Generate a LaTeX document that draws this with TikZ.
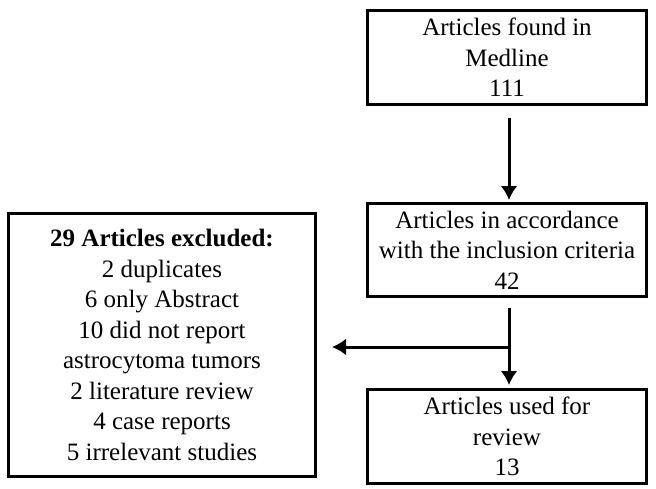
\documentclass[tikz,border=0pt]{standalone}
\usepackage{fontspec}
\setmainfont{Liberation Serif}
\usetikzlibrary{arrows.meta,calc}
\begin{document}
\begin{tikzpicture}[x=1pt,y=-1pt,
  box/.style={draw, line width=3pt, align=center, inner sep=0pt,
    font=\fontsize{25}{30.5}\selectfont},
  arr/.style={line width=3pt, -{Latex[length=14pt,width=17pt]}}]
\useasboundingbox (0,0) rectangle (656,488);
\node[box, minimum width=279pt, minimum height=94pt] (found) at (507,57.5)
  {Articles found in\\Medline\\111};
\node[box, minimum width=279pt, minimum height=93pt] (incl) at (507,250)
  {Articles in accordance\\with the inclusion criteria\\42};
\node[box, minimum width=307pt, minimum height=263pt] (excl) at (162,345)
  {\textbf{29 Articles excluded:}\\2 duplicates\\6 only Abstract\\10 did not report\\astrocytoma tumors\\2 literature review\\4 case reports\\5 irrelevant studies};
\node[box, minimum width=279pt, minimum height=94pt] (used) at (507,436.5)
  {Articles used for\\review\\13};
\draw[arr] ($(found.south)+(2,12)$) -- ($(incl.north)+(2,-2)$);
\coordinate (br) at ($(incl.south)+(2,49)$);
\draw[arr] ($(incl.south)+(2,10)$) -- ($(used.north)+(2,-3)$);
\draw[arr] (br) -- ($(br -| excl.east)+(15,0)$);
\end{tikzpicture}
\end{document}
